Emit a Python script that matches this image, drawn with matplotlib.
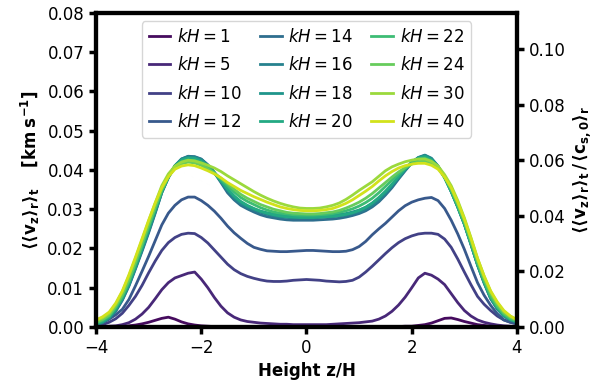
import numpy as np
import matplotlib
matplotlib.use('Agg')
import matplotlib.pyplot as plt

# height grid z/H
z = [-4.0, -3.875, -3.75, -3.625, -3.5, -3.375, -3.25, -3.125,
     -3.0, -2.875, -2.75, -2.625, -2.5, -2.375, -2.25, -2.125,
     -2.0, -1.875, -1.75, -1.625, -1.5, -1.375, -1.25, -1.125,
     -1.0, -0.875, -0.75, -0.625, -0.5, -0.375, -0.25, -0.125,
     0.0, 0.125, 0.25, 0.375, 0.5, 0.625, 0.75, 0.875,
     1.0, 1.125, 1.25, 1.375, 1.5, 1.625, 1.75, 1.875,
     2.0, 2.125, 2.25, 2.375, 2.5, 2.625, 2.75, 2.875,
     3.0, 3.125, 3.25, 3.375, 3.5, 3.625, 3.75, 3.875,
     4.0]

kH_values = [1, 5, 10, 12, 14, 16, 18, 20, 22, 24, 30, 40]

# <<v_z>_r>_t in km/s, one list per kH
vz_kH1 = [0, 0, 0, 0, 0.0001, 0.0003, 0.0005, 0.0008,
          0.0012, 0.0017, 0.0022, 0.0025, 0.002, 0.0013, 0.0008, 0.0005,
          0.0003, 0.0002, 0.0001, 0.0001, 0, 0, 0, 0,
          0, 0, 0, 0, 0, 0, 0, 0,
          0, 0, 0, 0, 0, 0, 0, 0,
          0, 0, 0, 0, 0, 0.0001, 0.0001, 0.0002,
          0.0002, 0.0004, 0.0006, 0.001, 0.0016, 0.0022, 0.0023, 0.0019,
          0.0014, 0.001, 0.0006, 0.0004, 0.0002, 0.0001, 0, 0,
          0]
vz_kH5 = [0, 0.0001, 0.0002, 0.0003, 0.0006, 0.0011, 0.002, 0.0033,
          0.005, 0.0072, 0.0095, 0.0113, 0.0125, 0.0131, 0.0137, 0.014,
          0.0122, 0.010, 0.0075, 0.0053, 0.0036, 0.0025, 0.0018, 0.0014,
          0.0012, 0.001, 0.0009, 0.0008, 0.0007, 0.0007, 0.0006, 0.0006,
          0.0006, 0.0006, 0.0006, 0.0006, 0.0007, 0.0008, 0.0009, 0.001,
          0.0011, 0.0013, 0.0015, 0.002, 0.0028, 0.004, 0.0056, 0.0076,
          0.010, 0.0125, 0.0137, 0.0132, 0.0122, 0.0108, 0.0085, 0.0062,
          0.0042, 0.0028, 0.0018, 0.0012, 0.0008, 0.0005, 0.0003, 0.0002,
          0.0001]
vz_kH10 = [0.0003, 0.0006, 0.0012, 0.0021, 0.0035, 0.0055, 0.0078, 0.0106,
           0.0138, 0.0168, 0.0195, 0.0215, 0.0228, 0.0236, 0.0239, 0.0238,
           0.0228, 0.0214, 0.0196, 0.0178, 0.016, 0.0146, 0.0136, 0.0129,
           0.0124, 0.012, 0.0117, 0.0116, 0.0116, 0.0117, 0.0119, 0.012,
           0.0121, 0.012, 0.0119, 0.0117, 0.0116, 0.0115, 0.0116, 0.0119,
           0.0127, 0.014, 0.0155, 0.0171, 0.0187, 0.0202, 0.0215, 0.0225,
           0.0232, 0.0237, 0.0239, 0.0239, 0.0236, 0.0224, 0.0203, 0.0173,
           0.014, 0.0108, 0.0078, 0.0058, 0.0042, 0.0028, 0.0018, 0.0012,
           0.0008]
vz_kH12 = [0.0005, 0.0011, 0.002, 0.0031, 0.0045, 0.007, 0.0105, 0.0142,
           0.018, 0.022, 0.026, 0.029, 0.031, 0.0324, 0.0331, 0.0331,
           0.0322, 0.031, 0.0295, 0.0277, 0.0257, 0.024, 0.0226, 0.0213,
           0.0203, 0.0198, 0.0194, 0.0193, 0.0192, 0.0192, 0.0193, 0.0194,
           0.0195, 0.0195, 0.0194, 0.0193, 0.0192, 0.0192, 0.0193, 0.0197,
           0.0205, 0.0218, 0.0235, 0.025, 0.0264, 0.028, 0.0296, 0.0309,
           0.0318, 0.0324, 0.0328, 0.033, 0.0322, 0.0302, 0.0272, 0.0237,
           0.0198, 0.0155, 0.0113, 0.0081, 0.0055, 0.0034, 0.0018, 0.0012,
           0.0008]
vz_kH14 = [0.0005, 0.0011, 0.0022, 0.004, 0.0068, 0.0104, 0.0148, 0.0193,
           0.024, 0.029, 0.0342, 0.038, 0.041, 0.0428, 0.0435, 0.0434,
           0.0428, 0.0413, 0.0393, 0.0368, 0.0342, 0.0324, 0.031, 0.0301,
           0.0293, 0.0286, 0.0281, 0.0278, 0.0275, 0.0273, 0.0272, 0.0272,
           0.0272, 0.0272, 0.0273, 0.0274, 0.0275, 0.0277, 0.028, 0.0284,
           0.0289, 0.0296, 0.0306, 0.0319, 0.0336, 0.0355, 0.0377, 0.0398,
           0.0418, 0.0431, 0.0437, 0.0428, 0.0409, 0.0381, 0.0345, 0.0305,
           0.0262, 0.0211, 0.0158, 0.0112, 0.0072, 0.0046, 0.0028, 0.0018,
           0.0012]
vz_kH16 = [0.0006, 0.0012, 0.0023, 0.0042, 0.007, 0.0106, 0.015, 0.0196,
           0.0243, 0.0292, 0.0343, 0.0381, 0.0411, 0.0428, 0.0434, 0.0433,
           0.0427, 0.0413, 0.0394, 0.0371, 0.0347, 0.0328, 0.0314, 0.0305,
           0.0298, 0.0292, 0.0287, 0.0283, 0.028, 0.0279, 0.0278, 0.0278,
           0.0278, 0.0278, 0.0279, 0.028, 0.0281, 0.0283, 0.0285, 0.0289,
           0.0293, 0.03, 0.031, 0.0323, 0.034, 0.0359, 0.038, 0.04,
           0.0419, 0.0432, 0.0438, 0.043, 0.041, 0.0382, 0.0346, 0.0306,
           0.0262, 0.0211, 0.0158, 0.0113, 0.0073, 0.0047, 0.0028, 0.0018,
           0.0012]
vz_kH18 = [0.0007, 0.0013, 0.0024, 0.0044, 0.0072, 0.0108, 0.0152, 0.0198,
           0.0246, 0.0295, 0.0344, 0.0382, 0.0411, 0.0427, 0.0432, 0.0431,
           0.0425, 0.0411, 0.0393, 0.0372, 0.035, 0.0332, 0.0318, 0.0308,
           0.0301, 0.0295, 0.0291, 0.0288, 0.0285, 0.0284, 0.0283, 0.0283,
           0.0283, 0.0283, 0.0284, 0.0284, 0.0285, 0.0287, 0.0289, 0.0293,
           0.0298, 0.0305, 0.0315, 0.0328, 0.0343, 0.0362, 0.0382, 0.0401,
           0.0419, 0.0431, 0.0436, 0.0428, 0.0409, 0.0381, 0.0345, 0.0305,
           0.0262, 0.0211, 0.0159, 0.0114, 0.0074, 0.0048, 0.0029, 0.0019,
           0.0013]
vz_kH20 = [0.0008, 0.0014, 0.0025, 0.0046, 0.0074, 0.0111, 0.0155, 0.0202,
           0.025, 0.0298, 0.0345, 0.0382, 0.041, 0.0425, 0.043, 0.0429,
           0.0422, 0.0409, 0.0392, 0.0372, 0.0352, 0.0334, 0.032, 0.031,
           0.0302, 0.0295, 0.029, 0.0286, 0.0283, 0.0281, 0.028, 0.0279,
           0.0279, 0.0279, 0.028, 0.0281, 0.0282, 0.0284, 0.0287, 0.0291,
           0.0297, 0.0305, 0.0316, 0.033, 0.0346, 0.0364, 0.0384, 0.0403,
           0.042, 0.043, 0.0434, 0.0426, 0.0408, 0.038, 0.0346, 0.0306,
           0.0263, 0.0212, 0.016, 0.0115, 0.0075, 0.0049, 0.003, 0.0019,
           0.0013]
vz_kH22 = [0.001, 0.0017, 0.0028, 0.005, 0.0078, 0.0116, 0.016, 0.0207,
           0.0255, 0.0302, 0.0348, 0.0383, 0.0408, 0.0421, 0.0425, 0.0424,
           0.0418, 0.0406, 0.0392, 0.0376, 0.036, 0.0344, 0.033, 0.032,
           0.0312, 0.0304, 0.0298, 0.0293, 0.029, 0.0288, 0.0286, 0.0285,
           0.0285, 0.0285, 0.0286, 0.0287, 0.0289, 0.0292, 0.0296, 0.0301,
           0.0308, 0.0317, 0.0328, 0.0342, 0.0358, 0.0374, 0.039, 0.0405,
           0.0418, 0.0427, 0.043, 0.0423, 0.0408, 0.0381, 0.0348, 0.0309,
           0.0265, 0.0215, 0.0163, 0.0118, 0.0078, 0.0052, 0.0033, 0.0021,
           0.0015]
vz_kH24 = [0.0012, 0.0019, 0.003, 0.0053, 0.0082, 0.012, 0.0165, 0.0212,
           0.026, 0.0306, 0.035, 0.0383, 0.0405, 0.0416, 0.042, 0.0418,
           0.0412, 0.0403, 0.0392, 0.0379, 0.0365, 0.0351, 0.0338, 0.0328,
           0.032, 0.0312, 0.0306, 0.03, 0.0296, 0.0292, 0.029, 0.0289,
           0.0288, 0.0288, 0.0289, 0.0291, 0.0293, 0.0297, 0.0303, 0.031,
           0.0318, 0.0328, 0.034, 0.0354, 0.0368, 0.0382, 0.0395, 0.0406,
           0.0415, 0.0421, 0.0423, 0.0417, 0.0405, 0.0381, 0.0352, 0.0313,
           0.027, 0.022, 0.0168, 0.0123, 0.0085, 0.0057, 0.0036, 0.0024,
           0.0016]
vz_kH30 = [0.0016, 0.0023, 0.0035, 0.0058, 0.009, 0.013, 0.0175, 0.0222,
           0.027, 0.0316, 0.036, 0.039, 0.041, 0.042, 0.0425, 0.0423,
           0.0418, 0.0412, 0.0405, 0.0396, 0.0385, 0.0375, 0.0365, 0.0355,
           0.0345, 0.0336, 0.0328, 0.0321, 0.0315, 0.031, 0.0306, 0.0303,
           0.0302, 0.0302, 0.0303, 0.0306, 0.031, 0.0316, 0.0325, 0.0336,
           0.0348, 0.0359, 0.037, 0.0384, 0.0398, 0.0408, 0.0415, 0.0421,
           0.0425, 0.0428, 0.0428, 0.0422, 0.041, 0.0388, 0.036, 0.0322,
           0.0278, 0.0228, 0.0175, 0.013, 0.009, 0.0062, 0.004, 0.0027,
           0.0018]
vz_kH40 = [0.0018, 0.0026, 0.0038, 0.0061, 0.0092, 0.0133, 0.0178, 0.0225,
           0.0272, 0.0316, 0.0355, 0.0383, 0.0402, 0.041, 0.0413, 0.0411,
           0.0405, 0.0398, 0.039, 0.038, 0.0368, 0.0358, 0.0348, 0.034,
           0.0332, 0.0325, 0.0318, 0.0312, 0.0306, 0.0302, 0.0299, 0.0297,
           0.0296, 0.0296, 0.0297, 0.0299, 0.0302, 0.0308, 0.0315, 0.0324,
           0.0335, 0.0346, 0.0358, 0.0372, 0.0385, 0.0396, 0.0405, 0.0411,
           0.0415, 0.0417, 0.0417, 0.0412, 0.0402, 0.0382, 0.0355, 0.0318,
           0.0275, 0.0226, 0.0175, 0.013, 0.0092, 0.0064, 0.0042, 0.0028,
           0.0019]

profiles = [vz_kH1, vz_kH5, vz_kH10, vz_kH12, vz_kH14, vz_kH16,
            vz_kH18, vz_kH20, vz_kH22, vz_kH24, vz_kH30, vz_kH40]

cs0 = 0.7071  # mean sound speed used for the right axis

fig = plt.figure(figsize=(6.05, 3.91), dpi=100)
ax = fig.add_axes([0.1587, 0.1637, 0.6958, 0.8031])

colors = plt.cm.viridis(np.linspace(0.03, 0.93, len(kH_values)))
for kh, vz, c in zip(kH_values, profiles, colors):
    ax.plot(z, vz, color=c, lw=2.0, label=r'$kH = %d$' % kh,
            solid_joinstyle='round')

ax.set_xlim(-4, 4)
ax.set_ylim(0, 0.08)
ax.set_xticks([-4, -2, 0, 2, 4])
ax.set_yticks([0, 0.01, 0.02, 0.03, 0.04, 0.05, 0.06, 0.07, 0.08])
ax.yaxis.set_major_formatter(matplotlib.ticker.FormatStrFormatter('%.2f'))
ax.set_xlabel('Height z/H', fontsize=12, fontweight='bold')
ax.set_ylabel(r'$\mathbf{\langle\langle v_z\rangle_r\rangle_t}$    $\mathbf{[km\;s^{-1}]}$',
              fontsize=12)

ax2 = ax.twinx()
ax2.set_ylim(0, 0.08 / cs0)
ax2.set_yticks([0, 0.02, 0.04, 0.06, 0.08, 0.10])
ax2.yaxis.set_major_formatter(matplotlib.ticker.FormatStrFormatter('%.2f'))
ax2.set_ylabel(r'$\mathbf{\langle\langle v_z\rangle_r\rangle_t\,/\,\langle c_{s,0}\rangle_r}$',
               fontsize=12)

for a in (ax, ax2):
    for sp in a.spines.values():
        sp.set_linewidth(3)
    a.tick_params(labelsize=12, width=2.5, length=5)

ax.legend(loc='upper center', ncol=3, fontsize=12, handlelength=1.3,
          columnspacing=1.1, labelspacing=0.62, handletextpad=0.4)

fig.savefig('out.png', dpi=100)
